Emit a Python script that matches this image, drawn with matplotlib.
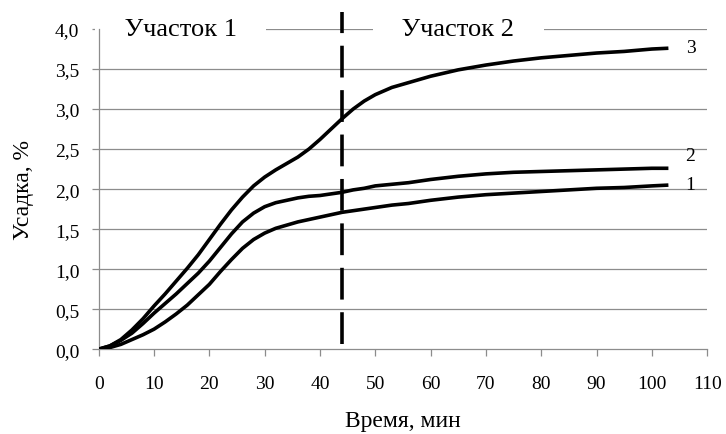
import matplotlib
matplotlib.use("Agg")
import matplotlib.pyplot as plt

plt.rcParams['font.family'] = ['Liberation Serif', 'DejaVu Serif']

t = [0, 2, 4, 6, 8, 10, 12, 14, 16, 18, 20, 22, 24, 26, 28, 30, 32, 34, 36, 38, 40,
     42, 44, 46, 48, 50, 53, 56, 60, 65, 70, 75, 80, 85, 90, 95, 100, 103]
curve3 = [0, 0.04, 0.12, 0.24, 0.38, 0.54, 0.69, 0.85, 1.01, 1.18, 1.37, 1.56, 1.74, 1.9,
          2.04, 2.15, 2.24, 2.32, 2.4, 2.5, 2.62, 2.75, 2.88, 3.0, 3.1, 3.18, 3.27, 3.33,
          3.41, 3.49, 3.55, 3.6, 3.64, 3.67, 3.7, 3.72, 3.75, 3.76]
curve2 = [0, 0.04, 0.11, 0.2, 0.32, 0.45, 0.57, 0.69, 0.82, 0.95, 1.1, 1.27, 1.44, 1.59,
          1.7, 1.78, 1.83, 1.86, 1.89, 1.91, 1.92, 1.94, 1.96, 1.99, 2.01, 2.04, 2.06, 2.08,
          2.12, 2.16, 2.19, 2.21, 2.22, 2.23, 2.24, 2.25, 2.26, 2.26]
curve1 = [0, 0.02, 0.06, 0.12, 0.18, 0.25, 0.34, 0.44, 0.55, 0.68, 0.81, 0.97, 1.12, 1.26,
          1.37, 1.45, 1.51, 1.55, 1.59, 1.62, 1.65, 1.68, 1.71, 1.73, 1.75, 1.77, 1.8, 1.82,
          1.86, 1.9, 1.93, 1.95, 1.97, 1.99, 2.01, 2.02, 2.04, 2.05]
series = [("1", curve1, 2.06), ("2", curve2, 2.42), ("3", curve3, 3.77)]
boundary_x = 43.9
sections = [("Участок 1", 14.8), ("Участок 2", 65.0)]
xticks = list(range(0, 111, 10))
yticks = [0, 0.5, 1.0, 1.5, 2.0, 2.5, 3.0, 3.5, 4.0]
ytick_labels = ["0,0", "0,5", "1,0", "1,5", "2,0", "2,5", "3,0", "3,5", "4,0"]

fig = plt.figure(figsize=(7.26, 4.35), dpi=100)
ax = fig.add_axes([0.136, 0.195, 0.838, 0.736])
ax.set_xlim(0, 110)
ax.set_ylim(0, 4.0)

gray = '#8c8c8c'
for yv in yticks[1:]:
    ax.axhline(yv, color=gray, lw=0.9, zorder=1)

for name, ys, ly in series:
    ax.plot(t, ys, color='black', lw=2.6, solid_capstyle='butt',
            solid_joinstyle='round', zorder=3)
    ax.text(107.0, ly, name, fontsize=14, ha='center', va='center', zorder=4)

ax.plot([boundary_x, boundary_x], [0.06, 4.21], color='black', lw=2.6,
        dashes=(8.8, 3.5), clip_on=False, zorder=3)

for label, xc in sections:
    ax.text(xc, 4.0, "    " + label + "    ", fontsize=19, ha='center', va='center',
            bbox=dict(facecolor='white', edgecolor='none', pad=2), zorder=2)

ax.set_xticks(xticks)
ax.set_yticks(yticks)
ax.set_yticklabels(ytick_labels)
for s in ['top', 'right']:
    ax.spines[s].set_visible(False)
for s in ['left', 'bottom']:
    ax.spines[s].set_color(gray)
    ax.spines[s].set_linewidth(0.9)
ax.tick_params(axis='both', direction='out', length=5, width=0.9, color=gray, labelsize=14)
ax.tick_params(axis='x', pad=13.5)
ax.tick_params(axis='y', pad=9)
ax.set_xlabel("Время, мин", fontsize=17)
ax.set_ylabel("Усадка, %", fontsize=17)
ax.xaxis.set_label_coords(0.5, -0.19)
ax.yaxis.set_label_coords(-0.106, 0.5)

fig.savefig("out.png", dpi=100)
